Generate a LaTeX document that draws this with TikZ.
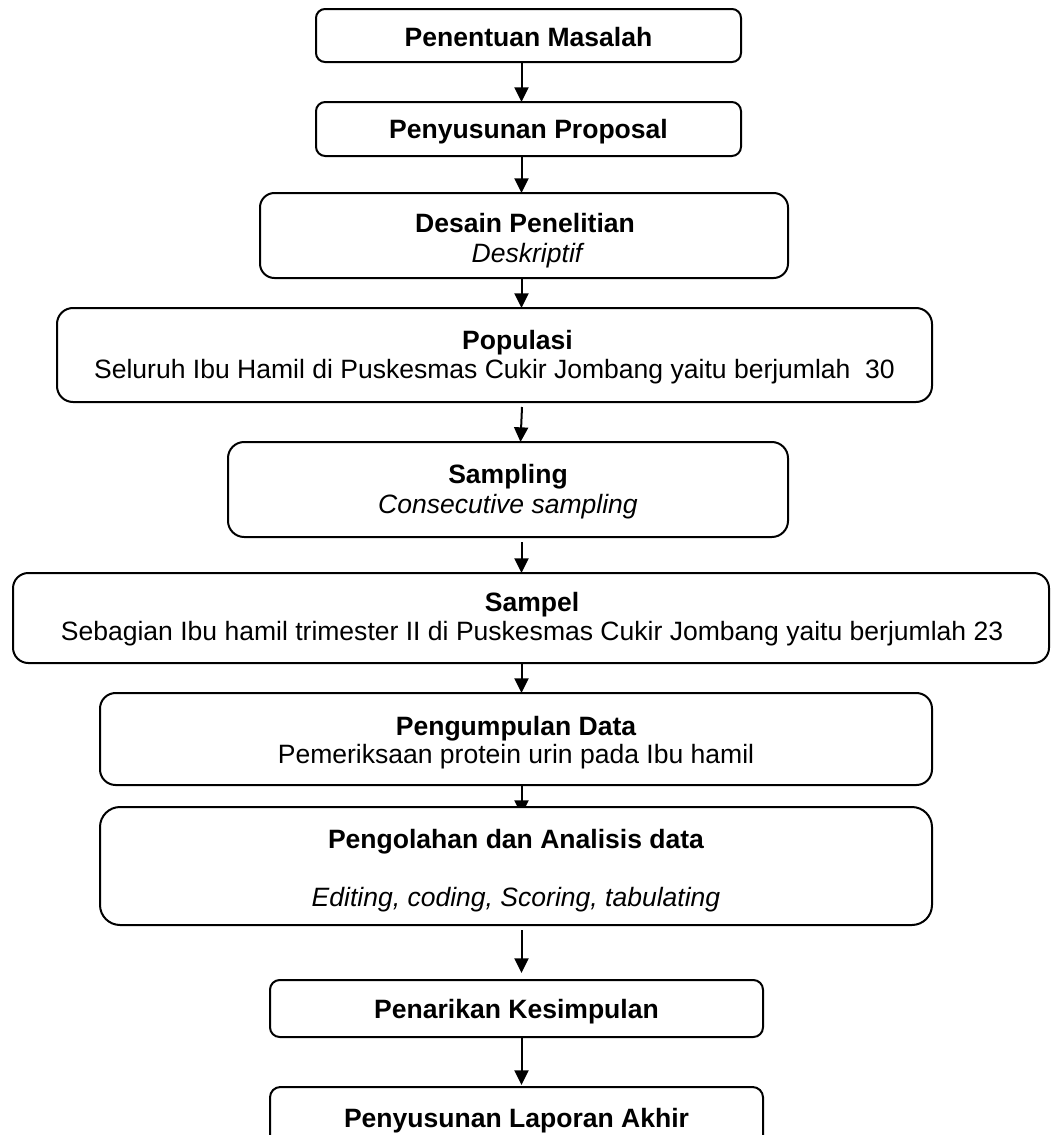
\documentclass[tikz,border=0pt]{standalone}
\usepackage{fontspec}
\setmainfont{Liberation Sans}
\usetikzlibrary{arrows.meta,calc,backgrounds}
\begin{document}
\begin{tikzpicture}[x=0.75pt,y=-0.75pt,
  bx/.style 2 args={draw, line width=1.5pt, fill=white, inner sep=0pt, outer sep=0pt,
    minimum width={#1*0.75pt}, minimum height={#2*0.75pt}, rounded corners={#2*0.1275pt}},
  tx/.style={anchor=base, inner sep=0pt, font=\fontsize{19.9}{24}\selectfont},
  bt/.style={tx, font=\fontsize{19.9}{24}\selectfont\bfseries},
  it/.style={tx, font=\fontsize{19.9}{24}\selectfont\itshape},
  arr/.style={line width=1.5pt, -{Triangle[length=11pt,width=10.5pt]}}]
\useasboundingbox (0,0) rectangle (1054,1135);
\clip (0,0) rectangle (1054,1135);

% boxes
\node[bx={425}{53}]  (b1)  at (528.5,35.5)  {};
\node[bx={425}{54}]  (b2)  at (528.5,129)   {};
\node[bx={528}{85}]  (b3)  at (524,235.5)   {};
\node[bx={875}{94}]  (b4)  at (494.5,355)   {};
\node[bx={560}{95}]  (b5)  at (508,489.5)   {};
\node[bx={1036}{90}] (b6)  at (531,618)     {};
\node[bx={832}{92}]  (b7)  at (516,739)     {};
\node[bx={832}{118}] (b8)  at (516,866)     {};
\node[bx={493}{57}]  (b9)  at (516.5,1008.5) {};
\node[bx={493}{61}]  (b10) at (516.5,1117.5) {};

% texts
\node[bt] (t1) at (528.5,46) {Penentuan Masalah};
\node[bt] (t2) at (528.5,138) {Penyusunan Proposal};
\node[bt] (t3a) at (525,232) {Desain Penelitian};
\node[it] (t3b) at (527,262) {Deskriptif};
\node[bt] (t4a) at (517.5,349) {Populasi};
\node[tx] (t4b) at (494.5,378) {Seluruh Ibu Hamil di Puskesmas Cukir Jombang yaitu berjumlah\ \ 30};
\node[bt] (t5a) at (508,483) {Sampling};
\node[it] (t5b) at (508,513) {Consecutive sampling};
\node[bt] (t6a) at (532,611) {Sampel};
\node[tx] (t6b) at (532,640) {Sebagian Ibu hamil trimester II di Puskesmas Cukir Jombang yaitu berjumlah 23};
\node[bt] (t7a) at (516,735) {Pengumpulan Data};
\node[tx] (t7b) at (516,763) {Pemeriksaan protein urin pada Ibu hamil};
\node[bt] (t8a) at (516,848) {Pengolahan dan Analisis data};
\node[it] (t8b) at (516,906) {Editing, coding, Scoring, tabulating};
\node[bt] (t9) at (516.5,1018) {Penarikan Kesimpulan};
\node[bt] (t10) at (516.5,1127) {Penyusunan Laporan Akhir};

% connectors
\coordinate (ax) at (521.5,0);
\begin{scope}[on background layer]
\draw[arr] (b1.south -| ax) -- (b2.north -| ax);
\draw[arr] (b2.south -| ax) -- (b3.north -| ax);
\draw[arr] (b3.south -| ax) -- (b4.north -| ax);
\draw[arr] ($(b4.south -| ax)+(0.5,5)$) -- ($(b5.north -| ax)+(-1,0)$);
\draw[arr] ($(b5.south -| ax)+(0,5)$) -- (b6.north -| ax);
\draw[arr] (b6.south -| ax) -- (b7.north -| ax);
\draw[arr] (b7.south -| ax) -- ($(b8.north -| ax)+(0,8)$);
\draw[arr] ($(b8.south -| ax)+(0,5)$) -- ($(b9.north -| ax)+(0,-7)$);
\draw[arr] (b9.south -| ax) -- ($(b10.north -| ax)+(0,-2)$);
\end{scope}
\end{tikzpicture}
\end{document}
